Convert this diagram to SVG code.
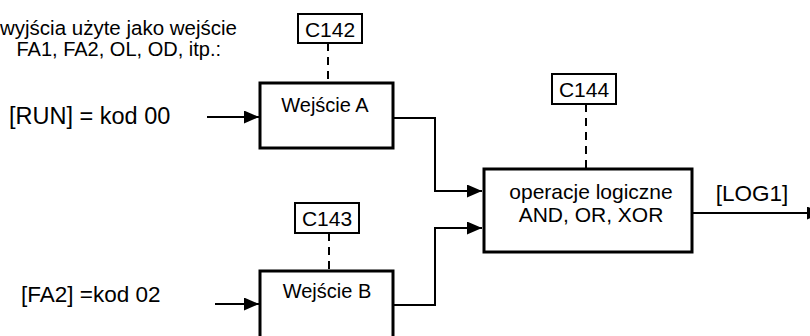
<svg xmlns="http://www.w3.org/2000/svg" width="810" height="336" viewBox="0 0 810 336">
<style>
text{font-family:"Liberation Sans",Arial,sans-serif;fill:#000}
.box{fill:#fff;stroke:#000;stroke-width:3}
.lbl{fill:#fff;stroke:#000;stroke-width:2}
.conn{fill:none;stroke:#000;stroke-width:2}
.dash{fill:none;stroke:#000;stroke-width:2;stroke-dasharray:8 6}
</style>
<defs>
<marker id="ah" markerWidth="15" markerHeight="13" refX="15" refY="6.5" orient="auto" markerUnits="userSpaceOnUse">
<path d="M0,0 L15,6.5 L0,13 Z" fill="#000"/>
</marker>
</defs>
<g id="caption">
<text x="237" y="35" font-size="20.5" text-anchor="end">wyjścia użyte jako wejście</text>
<text x="221" y="56" font-size="20" text-anchor="end">FA1, FA2, OL, OD, itp.:</text>
</g>
<g id="input-run"><text x="9" y="124" font-size="23.5">[RUN] = kod 00</text></g>
<g id="input-fa2"><text x="21" y="302" font-size="22.5">[FA2] =kod 02</text></g>
<g id="connectors">
<line class="conn" x1="207" y1="117" x2="259" y2="117" marker-end="url(#ah)"/>
<line class="conn" x1="215" y1="304" x2="259" y2="304" marker-end="url(#ah)"/>
<polyline class="conn" points="393,118 435,118 435,191 482,191" marker-end="url(#ah)"/>
<polyline class="conn" points="393,305 435,305 435,228 482,228" marker-end="url(#ah)"/>
<line class="conn" x1="692" y1="213" x2="822" y2="213" marker-end="url(#ah)"/>
<line class="dash" x1="328" y1="43" x2="328" y2="82"/>
<line class="dash" x1="329" y1="233" x2="329" y2="270"/>
<line class="dash" x1="586" y1="104" x2="586" y2="168"/>
</g>
<g id="c142"><rect class="lbl" x="298" y="14" width="64" height="29"/><text x="330" y="37" font-size="21" text-anchor="middle">C142</text></g>
<g id="c143"><rect class="lbl" x="295" y="203" width="64" height="30"/><text x="327" y="226" font-size="21" text-anchor="middle">C143</text></g>
<g id="c144"><rect class="lbl" x="552" y="74" width="64" height="30"/><text x="584" y="97" font-size="21" text-anchor="middle">C144</text></g>
<g id="wejscie-a"><rect class="box" x="260" y="83" width="133" height="65"/><text x="325" y="112" font-size="20" text-anchor="middle">Wejście A</text></g>
<g id="wejscie-b"><rect class="box" x="260" y="271" width="133" height="80"/><text x="327" y="298" font-size="20" text-anchor="middle">Wejście B</text></g>
<g id="logic"><rect class="box" x="484" y="169" width="208" height="83"/><text x="591" y="199" font-size="21" text-anchor="middle">operacje logiczne</text><text x="591" y="222" font-size="21" text-anchor="middle">AND, OR, XOR</text></g>
<g id="log1"><text x="752" y="201" font-size="22.5" text-anchor="middle">[LOG1]</text></g>
</svg>
